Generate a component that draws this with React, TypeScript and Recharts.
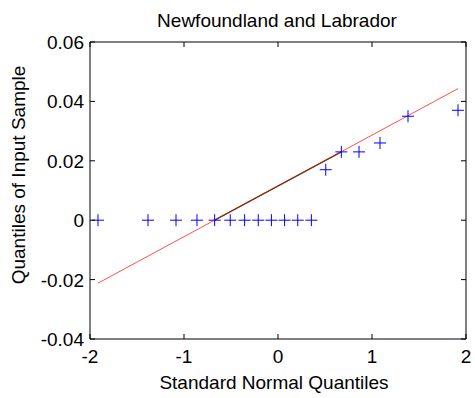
import React from 'react';
import { ScatterChart, Scatter, XAxis, YAxis } from 'recharts';

// standard normal quantiles (n = 18) and sorted sample values
const normalQuantiles = [
  -1.915, -1.383, -1.085, -0.862, -0.674, -0.508, -0.355, -0.21, -0.07,
  0.07, 0.21, 0.355, 0.508, 0.674, 0.862, 1.085, 1.383, 1.915
];
const sampleValues = [
  0, 0, 0, 0, 0, 0, 0, 0, 0, 0, 0, 0,
  0.017, 0.023, 0.023, 0.026, 0.035, 0.037
];

// reference line: full extent and the quartile segment
const fitX = [-1.915, 1.915];
const fitY = [-0.0212, 0.0443];
const quartileX = [-0.674, 0.674];
const quartileY = [0, 0.023];

const xTicks = [-2, -1, 0, 1, 2];
const yTicks = [-0.04, -0.02, 0, 0.02, 0.04, 0.06];

const points = normalQuantiles.map((q, i) => ({ x: q, y: sampleValues[i] }));
const fitLine = fitX.map((x, i) => ({ x, y: fitY[i] }));
const quartileLine = quartileX.map((x, i) => ({ x, y: quartileY[i] }));

const FONT = '"Liberation Sans", Arial, sans-serif';
const FS = 19;

const Plus = (props: any) => {
  const { cx, cy } = props;
  if (cx == null || cy == null) return <g />;
  return (
    <path
      d={`M${cx - 6},${cy}H${cx + 6}M${cx},${cy - 6}V${cy + 6}`}
      stroke="#0000ff"
      strokeWidth={1}
      fill="none"
    />
  );
};

const Nothing = () => <g />;

const fmtY = (v: number) => (v === 0 ? '0' : v.toFixed(2));

const BottomTick = (props: any) => {
  const { x, y, payload } = props;
  return (
    <g>
      <line x1={x} y1={y} x2={x} y2={y - 5} stroke="#000" />
      <text x={x} y={y + 24} textAnchor="middle" fontSize={FS} fontFamily={FONT} fill="#000">
        {payload.value}
      </text>
    </g>
  );
};

const TopTick = (props: any) => {
  const { x, y } = props;
  return <line x1={x} y1={y} x2={x} y2={y + 5} stroke="#000" />;
};

const LeftTick = (props: any) => {
  const { x, y, payload } = props;
  return (
    <g>
      <line x1={x} y1={y} x2={x + 5} y2={y} stroke="#000" />
      <text x={x - 6} y={y + 7} textAnchor="end" fontSize={FS} fontFamily={FONT} fill="#000">
        {fmtY(payload.value)}
      </text>
    </g>
  );
};

const RightTick = (props: any) => {
  const { x, y } = props;
  return <line x1={x} y1={y} x2={x - 5} y2={y} stroke="#000" />;
};

export default function App() {
  return (
    <div style={{ position: 'absolute', left: 0, top: 0, width: 475, height: 398, background: '#fff' }}>
      <ScatterChart width={475} height={398} margin={{ top: 41, right: 8, bottom: 20, left: 30 }}>
        <XAxis
          xAxisId="x"
          type="number"
          dataKey="x"
          domain={[-2, 2]}
          ticks={xTicks}
          allowDataOverflow
          height={39}
          tickSize={0}
          tickMargin={0}
          tickLine={false}
          tick={<BottomTick />}
          axisLine={{ stroke: '#000' }}
        />
        <XAxis
          xAxisId="xt"
          orientation="top"
          type="number"
          dataKey="x"
          domain={[-2, 2]}
          ticks={xTicks}
          allowDataOverflow
          height={1}
          tickSize={0}
          tickMargin={0}
          tickLine={false}
          tick={<TopTick />}
          axisLine={{ stroke: '#000' }}
        />
        <YAxis
          yAxisId="y"
          type="number"
          dataKey="y"
          domain={[-0.04, 0.06]}
          ticks={yTicks}
          allowDataOverflow
          width={60}
          tickSize={0}
          tickMargin={0}
          tickLine={false}
          tick={<LeftTick />}
          axisLine={{ stroke: '#000' }}
        />
        <YAxis
          yAxisId="yr"
          orientation="right"
          type="number"
          dataKey="y"
          domain={[-0.04, 0.06]}
          ticks={yTicks}
          allowDataOverflow
          width={1}
          tickSize={0}
          tickMargin={0}
          tickLine={false}
          tick={<RightTick />}
          axisLine={{ stroke: '#000' }}
        />
        {/* invisible series so the top and right box axes get drawn */}
        <Scatter
          xAxisId="xt"
          yAxisId="yr"
          data={points}
          shape={<Nothing />}
          isAnimationActive={false}
        />
        <Scatter
          xAxisId="x"
          yAxisId="y"
          data={fitLine}
          line={{ stroke: '#ff5050', strokeWidth: 1 }}
          shape={<Nothing />}
          isAnimationActive={false}
        />
        <Scatter
          xAxisId="x"
          yAxisId="y"
          data={quartileLine}
          line={{ stroke: '#7a3510', strokeWidth: 1.4 }}
          shape={<Nothing />}
          isAnimationActive={false}
        />
        <Scatter
          xAxisId="x"
          yAxisId="y"
          data={points}
          shape={<Plus />}
          isAnimationActive={false}
        />
      </ScatterChart>
      <svg
        width={475}
        height={398}
        style={{ position: 'absolute', left: 0, top: 0, pointerEvents: 'none' }}
      >
        <text x={277} y={27} textAnchor="middle" fontSize={FS} fontFamily={FONT} fill="#000">
          Newfoundland and Labrador
        </text>
        <text x={274} y={389} textAnchor="middle" fontSize={FS} fontFamily={FONT} fill="#000">
          Standard Normal Quantiles
        </text>
        <text
          x={25}
          y={175}
          textAnchor="middle"
          fontSize={FS}
          fontFamily={FONT}
          fill="#000"
          transform="rotate(-90 25 175)"
        >
          Quantiles of Input Sample
        </text>
      </svg>
    </div>
  );
}
